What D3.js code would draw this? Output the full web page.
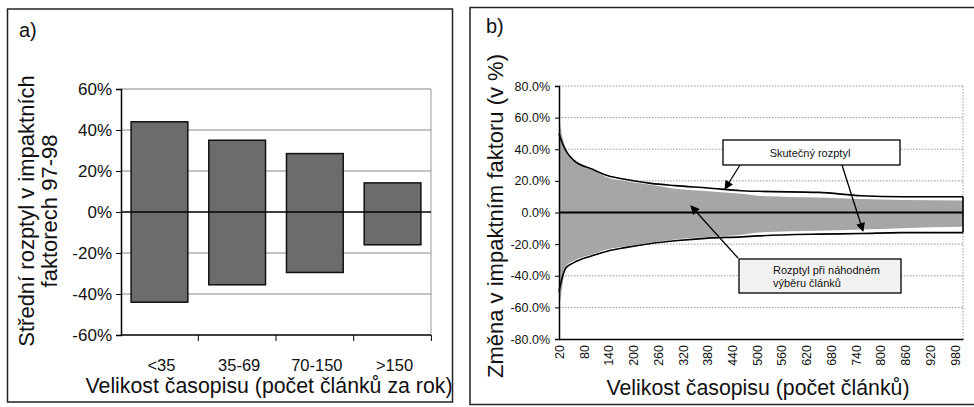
<!DOCTYPE html>
<html>
<head>
<meta charset="utf-8">
<script src="https://cdn.jsdelivr.net/npm/d3@7/dist/d3.min.js"></script>
<style>
	body { margin: 0; background: #fff; }
	svg text { font-family: "Liberation Sans", Arial, sans-serif; fill: #111; }
</style>
</head>
<body>
<div class="chart-area"></div>
<script>
// panel a data
var categories = ['<35', '35-69', '70-150', '>150'];
var upperValues = [44, 35, 28.5, 14.2];
var lowerValues = [-44, -35.5, -29.5, -16];
var aTicks = [-60, -40, -20, 0, 20, 40, 60];

// panel b data (x = velikost casopisu)
var sizes = [20, 25, 37, 56, 100, 139, 180, 243, 301, 382, 462, 503, 650, 753, 850, 1000];
var realUpper = [50, 46, 39, 33, 27.5, 23.2, 21, 18.4, 17, 15.5, 13.8, 13.4, 12.7, 10.6, 10, 10];
var realLower = [-50, -44, -35, -31.7, -27.4, -24.3, -22.2, -19.6, -17.9, -16.2, -15.4, -14.8, -13.7, -13.3, -12.7, -12.7];
var randUpper = [60, 52, 40, 33, 27, 22, 20, 17.5, 15, 13.5, 11.8, 10.6, 9.5, 8.5, 7.9, 7.6];
var randLower = [-60, -52, -34, -30.5, -26.5, -23.2, -21.5, -19, -17, -15.5, -14.1, -12.7, -11.6, -10.8, -9.9, -9];
var bTicksY = [-80, -60, -40, -20, 0, 20, 40, 60, 80];
var bTicksX = [20, 80, 140, 200, 260, 320, 380, 440, 500, 560, 620, 680, 740, 800, 860, 920, 980];

var width = 974;
var height = 407;

var svg = d3.select('.chart-area').append('svg:svg')
	.attr('width', width)
	.attr('height', height);

// arrow head for the callouts
svg.append('defs').append('marker')
	.attr('id', 'arrow')
	.attr('viewBox', '0 0 10 10')
	.attr('refX', 9)
	.attr('refY', 5)
	.attr('markerWidth', 11)
	.attr('markerHeight', 9)
	.attr('markerUnits', 'userSpaceOnUse')
	.attr('orient', 'auto')
	.append('path')
	.attr('d', 'M0,0 L10,5 L0,10 z')
	.attr('fill', '#000');

// ---------- panel a ----------
var panelA = svg.append('svg:g').attr('class', 'panel-a');

panelA.append('rect')
	.attr('x', 7.5).attr('y', 9)
	.attr('width', 445).attr('height', 393)
	.attr('fill', 'none').attr('stroke', '#222').attr('stroke-width', 1.5);

panelA.append('text')
	.attr('x', 19).attr('y', 37)
	.attr('font-size', 20)
	.text('a)');

var xa = d3.scaleBand()
	.domain(categories)
	.range([121, 431])
	.paddingInner(0.27)
	.paddingOuter(0.13);

var ya = d3.scaleLinear()
	.domain([-60, 60])
	.range([335, 89]);

// grid lines
panelA.append('g').selectAll('line')
	.data(aTicks.filter(function(t) { return t !== 0 && t !== -60; }))
	.enter().append('line')
	.attr('x1', 121).attr('x2', 431)
	.attr('y1', function(d) { return ya(d); })
	.attr('y2', function(d) { return ya(d); })
	.attr('stroke', '#888')
	.attr('stroke-width', 1);

panelA.append('line')
	.attr('x1', 431).attr('x2', 431)
	.attr('y1', ya(60)).attr('y2', ya(-60))
	.attr('stroke', '#999');

// bars (from lower to upper value)
panelA.append('g').selectAll('rect')
	.data(categories)
	.enter().append('rect')
	.attr('x', function(d) { return xa(d); })
	.attr('width', xa.bandwidth())
	.attr('y', function(d, i) { return ya(upperValues[i]); })
	.attr('height', function(d, i) { return ya(lowerValues[i]) - ya(upperValues[i]); })
	.attr('fill', '#6c6c6c')
	.attr('stroke', '#111')
	.attr('stroke-width', 1.5);

// zero line
panelA.append('line')
	.attr('x1', 121).attr('x2', 431)
	.attr('y1', ya(0)).attr('y2', ya(0))
	.attr('stroke', '#000').attr('stroke-width', 1.5);

// y axis
var yAxisA = panelA.append('g')
	.attr('transform', 'translate(121,0)')
	.call(d3.axisLeft(ya).tickValues(aTicks).tickSize(5).tickPadding(4)
		.tickFormat(function(d) { return d + '%'; }));
yAxisA.selectAll('text').attr('font-size', 17).attr('font-family', null);
yAxisA.select('.domain').attr('stroke-width', 1.5);

// x axis at the bottom, ticks between categories
var xAxisA = panelA.append('g')
	.attr('transform', 'translate(0,' + ya(-60) + ')');
xAxisA.append('line')
	.attr('x1', 121).attr('x2', 431)
	.attr('stroke', '#000').attr('stroke-width', 1.5);
xAxisA.selectAll('.sep')
	.data(categories)
	.enter().append('line')
	.attr('class', 'sep')
	.attr('x1', function(d) { return xa(d) - xa.step() * xa.paddingInner() / 2 + xa.step(); })
	.attr('x2', function(d) { return xa(d) - xa.step() * xa.paddingInner() / 2 + xa.step(); })
	.attr('y1', 0).attr('y2', 6)
	.attr('stroke', '#000');
xAxisA.selectAll('.cat')
	.data(categories)
	.enter().append('text')
	.attr('class', 'cat')
	.attr('x', function(d) { return xa(d) + xa.bandwidth() / 2 + 2; })
	.attr('y', 36)
	.attr('text-anchor', 'middle')
	.attr('font-size', 16.5)
	.text(function(d) { return d; });

panelA.append('text')
	.attr('x', 269).attr('y', 393)
	.attr('text-anchor', 'middle')
	.attr('font-size', 21.3)
	.text('Velikost časopisu (počet článků za rok)');

var yTitleA = panelA.append('text')
	.attr('transform', 'translate(34,211) rotate(-90)')
	.attr('text-anchor', 'middle')
	.attr('font-size', 22);
yTitleA.append('tspan').attr('x', 0).attr('dy', 0).text('Střední rozptyl v impaktních');
yTitleA.append('tspan').attr('x', 0).attr('dy', 23).text('faktorech 97-98');

// ---------- panel b ----------
var panelB = svg.append('svg:g').attr('class', 'panel-b');

panelB.append('rect')
	.attr('x', 470).attr('y', 7.5)
	.attr('width', 520).attr('height', 397)
	.attr('fill', 'none').attr('stroke', '#222').attr('stroke-width', 1.5);

panelB.append('text')
	.attr('x', 486).attr('y', 33)
	.attr('font-size', 20)
	.text('b)');

var xb = d3.scaleLinear()
	.domain([20, 1000])
	.range([559, 963]);

var yb = d3.scaleLinear()
	.domain([-80, 80])
	.range([339, 86]);

// dotted grid + plot border
panelB.append('g').selectAll('line')
	.data(bTicksY.filter(function(t) { return t !== 0 && t !== -80; }))
	.enter().append('line')
	.attr('x1', xb(20)).attr('x2', xb(1000))
	.attr('y1', function(d) { return yb(d); })
	.attr('y2', function(d) { return yb(d); })
	.attr('stroke', '#999')
	.attr('stroke-dasharray', '1.5,1.5');
panelB.append('line')
	.attr('x1', xb(1000)).attr('x2', xb(1000))
	.attr('y1', yb(80)).attr('y2', yb(-80))
	.attr('stroke', '#999')
	.attr('stroke-dasharray', '1.5,1.5');

// random-selection band
var randArea = d3.area()
	.x(function(d, i) { return xb(sizes[i]); })
	.y0(function(d, i) { return yb(randLower[i]); })
	.y1(function(d, i) { return yb(randUpper[i]); })
	.curve(d3.curveMonotoneX);

panelB.append('path')
	.datum(sizes)
	.attr('d', randArea)
	.attr('fill', '#a6a6a6');

// real range: upper, lower, closed at the right end
var realLine = d3.line()
	.x(function(d) { return xb(d[0]); })
	.y(function(d) { return yb(d[1]); })
	.curve(d3.curveMonotoneX);

var upperPts = sizes.map(function(s, i) { return [s, realUpper[i]]; });
var lowerPts = sizes.map(function(s, i) { return [s, realLower[i]]; });

panelB.append('path')
	.datum(upperPts)
	.attr('d', realLine)
	.attr('fill', 'none').attr('stroke', '#000').attr('stroke-width', 1.6);
panelB.append('path')
	.datum(lowerPts)
	.attr('d', realLine)
	.attr('fill', 'none').attr('stroke', '#000').attr('stroke-width', 1.6);
panelB.append('line')
	.attr('x1', xb(1000)).attr('x2', xb(1000))
	.attr('y1', yb(realUpper[realUpper.length - 1]))
	.attr('y2', yb(realLower[realLower.length - 1]))
	.attr('stroke', '#000').attr('stroke-width', 1.6);

// zero line
panelB.append('line')
	.attr('x1', xb(20)).attr('x2', xb(1000))
	.attr('y1', yb(0)).attr('y2', yb(0))
	.attr('stroke', '#000').attr('stroke-width', 1.8);

// axes
var yAxisB = panelB.append('g')
	.attr('transform', 'translate(' + xb(20) + ',0)')
	.call(d3.axisLeft(yb).tickValues(bTicksY).tickSize(4).tickPadding(5)
		.tickFormat(function(d) { return d.toFixed(1) + '%'; }));
yAxisB.selectAll('text').attr('font-size', 12.5).attr('font-family', null);
yAxisB.select('.domain').attr('stroke-width', 1.5);

var xAxisB = panelB.append('g')
	.attr('transform', 'translate(0,' + yb(-80) + ')')
	.call(d3.axisBottom(xb).tickValues(bTicksX).tickSize(0).tickPadding(6));
xAxisB.select('.domain').attr('stroke-width', 1.5);
xAxisB.selectAll('text')
	.attr('font-size', 12.5)
	.attr('font-family', null)
	.attr('text-anchor', 'end')
	.attr('dy', '0.35em')
	.attr('transform', 'translate(0,6) rotate(-90)')
	.attr('x', 0)
	.attr('y', 0);

panelB.append('text')
	.attr('x', 758).attr('y', 395)
	.attr('text-anchor', 'middle')
	.attr('font-size', 21.3)
	.text('Velikost časopisu (počet článků)');

panelB.append('text')
	.attr('transform', 'translate(503,216) rotate(-90)')
	.attr('text-anchor', 'middle')
	.attr('font-size', 22)
	.text('Změna v impaktním faktoru (v %)');

// callout boxes
var callouts = panelB.append('g').attr('class', 'callouts');

callouts.append('line')
	.attr('x1', 740).attr('y1', 165).attr('x2', 725).attr('y2', 189)
	.attr('stroke', '#000').attr('stroke-width', 1.3).attr('marker-end', 'url(#arrow)');
callouts.append('line')
	.attr('x1', 842).attr('y1', 165).attr('x2', 863).attr('y2', 231)
	.attr('stroke', '#000').attr('stroke-width', 1.3).attr('marker-end', 'url(#arrow)');
callouts.append('line')
	.attr('x1', 738).attr('y1', 258).attr('x2', 691).attr('y2', 206)
	.attr('stroke', '#000').attr('stroke-width', 1.3).attr('marker-end', 'url(#arrow)');

callouts.append('rect')
	.attr('x', 723).attr('y', 140).attr('width', 177).attr('height', 25)
	.attr('fill', '#fff').attr('stroke', '#000').attr('stroke-width', 1.3);
callouts.append('text')
	.attr('x', 810).attr('y', 157)
	.attr('text-anchor', 'middle')
	.attr('font-size', 11)
	.text('Skutečný rozptyl');

callouts.append('rect')
	.attr('x', 739).attr('y', 259).attr('width', 162).attr('height', 34)
	.attr('fill', '#f1f1f1').attr('stroke', '#000').attr('stroke-width', 1.3);
var boxText = callouts.append('text')
	.attr('x', 773).attr('y', 274)
	.attr('font-size', 11);
boxText.append('tspan').attr('x', 773).attr('dy', 0).text('Rozptyl při náhodném');
boxText.append('tspan').attr('x', 773).attr('dy', 13).text('výběru článků');
</script>
</body>
</html>
